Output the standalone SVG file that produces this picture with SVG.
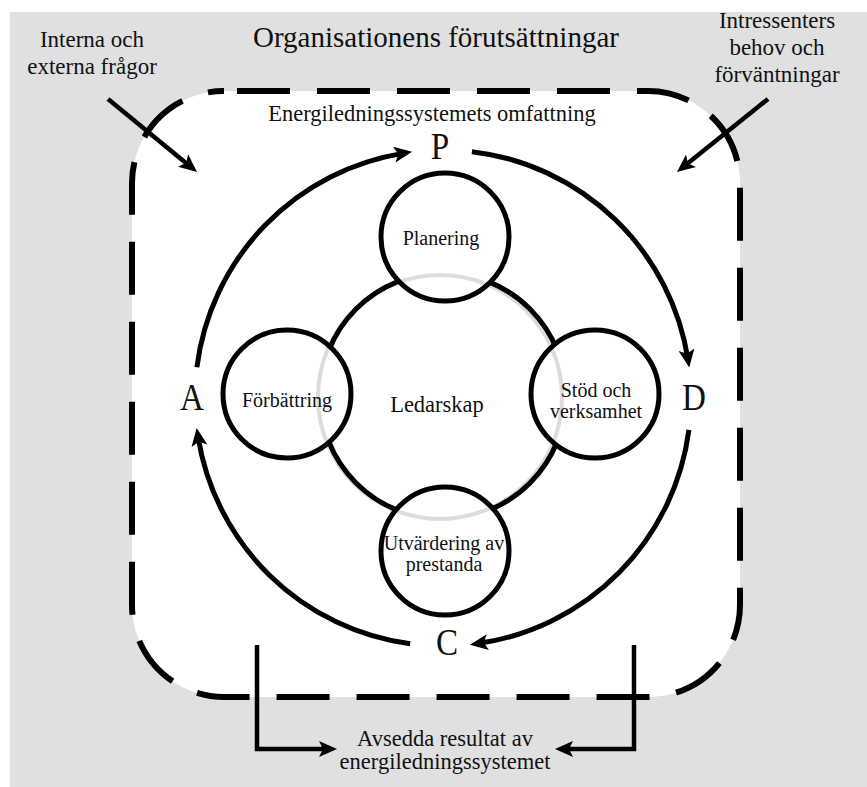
<svg xmlns="http://www.w3.org/2000/svg" width="867" height="787" viewBox="0 0 867 787">
<style>
text{font-family:"Liberation Serif","DejaVu Serif",serif;fill:#111;text-anchor:middle}
.t29{font-size:29px}
.t23{font-size:23px}
.t22{font-size:22.5px}
.t20{font-size:20px}
.big{font-size:39px}
.node{fill:none;stroke:#000;stroke-width:5}
.con{fill:none;stroke:#000;stroke-width:5}
.con2{fill:none;stroke:#000;stroke-width:4.5}
</style>
<defs>
<marker id="ah" markerWidth="20" markerHeight="18" refX="10" refY="0" viewBox="0 -9 20 18" orient="auto" markerUnits="userSpaceOnUse">
<path d="M0,-8 L18,0 L0,8 L4,0 z" fill="#000"/>
</marker>
<mask id="cut">
<rect x="0" y="0" width="867" height="787" fill="#fff"/>
<circle cx="445" cy="237" r="66" fill="#000"/>
<circle cx="287" cy="394" r="66" fill="#000"/>
<circle cx="595" cy="394" r="66" fill="#000"/>
<circle cx="445" cy="551" r="66" fill="#000"/>
</mask>
</defs>
<rect x="0" y="0" width="867" height="787" fill="#fff"/>
<rect x="10" y="12" width="857" height="775" fill="#e0e0e0"/>
<g id="scope">
<rect x="132" y="91" width="608" height="606" rx="92" ry="92" fill="#fff" stroke="#000" stroke-width="6" stroke-dasharray="53 27" stroke-dashoffset="67"/>
<text class="t22" x="432" y="121">Energiledningssystemets omfattning</text>
</g>
<g id="context">
<text class="t29" x="436" y="47">Organisationens förutsättningar</text>
</g>
<g id="issues">
<text class="t23" x="92" y="46.5">Interna och</text>
<text class="t23" x="92" y="74">externa frågor</text>
</g>
<g id="stakeholders">
<text class="t23" x="777" y="28">Intressenters</text>
<text class="t23" x="777" y="55">behov och</text>
<text class="t23" x="777" y="82">förväntningar</text>
</g>
<g id="results">
<text class="t22" x="445" y="746">Avsedda resultat av</text>
<text class="t22" x="445" y="769">energiledningssystemet</text>
</g>
<g id="leadership">
<circle cx="440" cy="397" r="122" fill="none" stroke="#dcdcdc" stroke-width="4"/>
<circle cx="443" cy="396" r="123" fill="none" stroke="#000" stroke-width="5" mask="url(#cut)"/>
<text class="t22" x="437" y="412">Ledarskap</text>
</g>
<g id="planering">
<circle class="node" cx="445" cy="237" r="64"/>
<text class="t20" x="441" y="245">Planering</text>
</g>
<g id="forbattring">
<circle class="node" cx="287" cy="394" r="64"/>
<text class="t20" x="287" y="407">Förbättring</text>
</g>
<g id="stod">
<circle class="node" cx="595" cy="394" r="64"/>
<text class="t20" x="596" y="397">Stöd och</text>
<text class="t20" x="596" y="418">verksamhet</text>
</g>
<g id="utvardering">
<circle class="node" cx="445" cy="551" r="64"/>
<text class="t20" x="444" y="550">Utvärdering av</text>
<text class="t20" x="444" y="571">prestanda</text>
</g>
<g id="pdca">
<text class="big" transform="translate(440,159) scale(0.85,1)">P</text>
<text class="big" transform="translate(694,410) scale(0.85,1)">D</text>
<text class="big" transform="translate(447,655) scale(0.85,1)">C</text>
<text class="big" transform="translate(192,410) scale(0.85,1)">A</text>
</g>
<g id="connectors">
<path class="con" d="M196.9,367.3 A248,248 0 0 1 404.2,153.1" marker-end="url(#ah)"/>
<path class="con" d="M471.9,151.7 A248,248 0 0 1 688.0,359.6" marker-end="url(#ah)"/>
<path class="con" d="M688.9,429.9 A248,248 0 0 1 477.9,643.5" marker-end="url(#ah)"/>
<path class="con" d="M410.2,643.8 A248,248 0 0 1 197.9,435.9" marker-end="url(#ah)"/>
<path class="con2" d="M108,99 L190.8,166.9" marker-end="url(#ah)"/>
<path class="con2" d="M768,99 L683.2,167" marker-end="url(#ah)"/>
<path class="con2" d="M257,645 V749 H329" marker-end="url(#ah)"/>
<path class="con2" d="M634,645 V749 H563" marker-end="url(#ah)"/>
</g>
</svg>
